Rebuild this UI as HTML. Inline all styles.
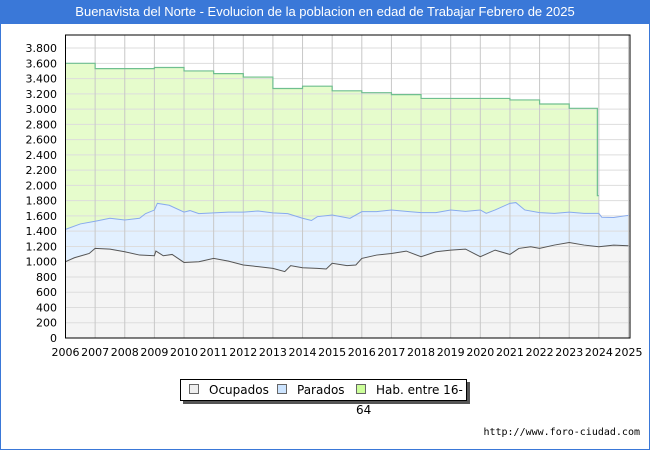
<!DOCTYPE html>
<html><head><meta charset="utf-8"><style>
body{margin:0;width:650px;height:450px;overflow:hidden;background:#fff;font-family:"Liberation Sans","DejaVu Sans",sans-serif}
#wrap{position:absolute;left:0;top:0;width:648px;height:448px;border:1px solid #3a78d8;}
#title{position:absolute;left:0;top:0;width:650px;height:24px;background:#3a78d8;color:#fff;font-size:13px;line-height:24px;text-align:center}
</style></head><body>
<div id="wrap"></div>
<div id="title">Buenavista del Norte - Evolucion de la poblacion en edad de Trabajar Febrero de 2025</div>
<svg id="chart" width="650" height="450" style="position:absolute;left:0;top:0"></svg>
<script>
const habYears=[2006,2007,2008,2009,2010,2011,2012,2013,2014,2015,2016,2017,2018,2019,2020,2021,2022,2023,2023.95];
const habValues=[3600,3530,3530,3545,3500,3465,3420,3270,3300,3240,3215,3190,3140,3140,3140,3120,3067,3010,1865];
const parYears=[2006,2006.5,2007,2007.5,2008,2008.5,2008.7,2009,2009.1,2009.5,2010,2010.2,2010.5,2011,2011.5,2012,2012.5,2013,2013.5,2014,2014.3,2014.5,2015,2015.6,2016,2016.5,2017,2017.5,2018,2018.5,2019,2019.5,2020,2020.2,2020.5,2021,2021.2,2021.5,2022,2022.5,2023,2023.5,2024,2024.1,2024.5,2025];
const parValues=[1424,1495,1530,1570,1547,1570,1630,1677,1765,1740,1650,1670,1630,1640,1650,1650,1665,1640,1630,1570,1540,1590,1612,1568,1656,1656,1678,1660,1643,1643,1678,1660,1678,1634,1678,1765,1775,1678,1643,1634,1650,1634,1634,1582,1580,1608];
const ocuYears=[2006,2006.3,2006.8,2007,2007.5,2008,2008.5,2009,2009.05,2009.3,2009.6,2010,2010.5,2011,2011.5,2012,2012.5,2013,2013.4,2013.6,2014,2014.5,2014.8,2015,2015.5,2015.8,2016,2016.5,2017,2017.5,2018,2018.5,2019,2019.5,2020,2020.5,2021,2021.3,2021.7,2022,2022.5,2023,2023.5,2024,2024.5,2025];
const ocuValues=[1000,1052,1108,1174,1165,1130,1087,1078,1140,1078,1095,990,1000,1043,1008,957,935,913,870,948,921,913,904,979,948,957,1043,1087,1108,1139,1065,1130,1152,1165,1065,1152,1095,1174,1196,1174,1218,1252,1218,1196,1218,1209];
const yTicks=[0,200,400,600,800,1000,1200,1400,1600,1800,2000,2200,2400,2600,2800,3000,3200,3400,3600,3800];
const xTicks=[2006,2007,2008,2009,2010,2011,2012,2013,2014,2015,2016,2017,2018,2019,2020,2021,2022,2023,2024,2025];
const L=65.5,R=630,T=35,B=338;
const x=v=>L+(v-2006)*29.63;
const y=v=>B-v*0.0763;
const svg=document.getElementById('chart');
const NS='http://www.w3.org/2000/svg';
function mk(tag,attrs){const e=document.createElementNS(NS,tag);for(const k in attrs)e.setAttribute(k,attrs[k]);svg.appendChild(e);return e;}
let e=mk('rect',{x:L,y:T,width:R-L,height:B-T,fill:'#fff'});


// hab area (steps)
let d='M'+x(habYears[0])+','+B;
for(let i=0;i<habYears.length;i++){const xe=i<habYears.length-1?x(habYears[i+1]):x(2024);d+=' L'+x(habYears[i])+','+y(habValues[i])+' L'+xe+','+y(habValues[i]);}
let habLine=d.replace(/^M[^L]*L/,'M');
e=mk('path',{d:d+' L'+x(2024)+','+B+' Z',fill:'#e6fccc'});


function pts(ys,vs){return ys.map((t,i)=>x(t)+','+y(vs[i])).join(' L');}
e=mk('path',{d:'M'+x(parYears[0])+','+B+' L'+pts(parYears,parValues)+' L'+x(parYears[parYears.length-1])+','+B+' Z',fill:'#e2f0ff'});


e=mk('path',{d:'M'+x(ocuYears[0])+','+B+' L'+pts(ocuYears,ocuValues)+' L'+x(ocuYears[ocuYears.length-1])+','+B+' Z',fill:'#f4f4f4'});


// grid
yTicks.forEach(v=>{const g=mk('line',{x1:L,x2:R,y1:y(v),y2:y(v),stroke:'#dddddd','stroke-width':1});


const t=mk('text',{x:57,y:y(v)+4,'text-anchor':'end','font-size':11,fill:'#000','font-family':'DejaVu Sans,sans-serif'});t.textContent=v===0?'0':v.toLocaleString('de-DE');

});
xTicks.forEach(v=>{const g=mk('line',{x1:x(v),x2:x(v),y1:T,y2:B,stroke:'#c8c8c8','stroke-width':1});


const t=mk('text',{x:x(v),y:356,'text-anchor':'middle','font-size':11,fill:'#000','font-family':'DejaVu Sans,sans-serif'});t.textContent=v;

});
e=mk('path',{d:habLine+' L'+x(2024)+','+y(habValues[habValues.length-1]),fill:'none',stroke:'#6fbf8f','stroke-width':1.2});


e=mk('path',{d:'M'+pts(parYears,parValues),fill:'none',stroke:'#88aaee','stroke-width':1});


e=mk('path',{d:'M'+pts(ocuYears,ocuValues),fill:'none',stroke:'#555','stroke-width':1});


e=mk('rect',{x:L,y:T,width:R-L,height:B-T,fill:'none',stroke:'#000','stroke-width':1});


</script>
<div style="position:absolute;left:180px;top:379px;width:285px;height:20px;border:1px solid #000;background:#fff;box-shadow:3px 3px 0 #555;font-size:12px;font-family:'DejaVu Sans',sans-serif;line-height:20px">
<span style="position:absolute;left:8px"><span style="display:inline-block;width:8px;height:8px;border:1px solid #666;background:#eee;margin-right:10px"></span>Ocupados</span>
<span style="position:absolute;left:96px"><span style="display:inline-block;width:8px;height:8px;border:1px solid #666;background:#cce4ff;margin-right:10px"></span>Parados</span>
<span style="position:absolute;left:175px"><span style="display:inline-block;width:8px;height:8px;border:1px solid #666;background:#ccff99;margin-right:10px"></span>Hab. entre 16-64</span>
</div>
<div style="position:absolute;right:10px;top:427px;font-size:10px;font-family:'DejaVu Sans Mono','Liberation Mono',monospace">http://www.foro-ciudad.com</div>
</body></html>
